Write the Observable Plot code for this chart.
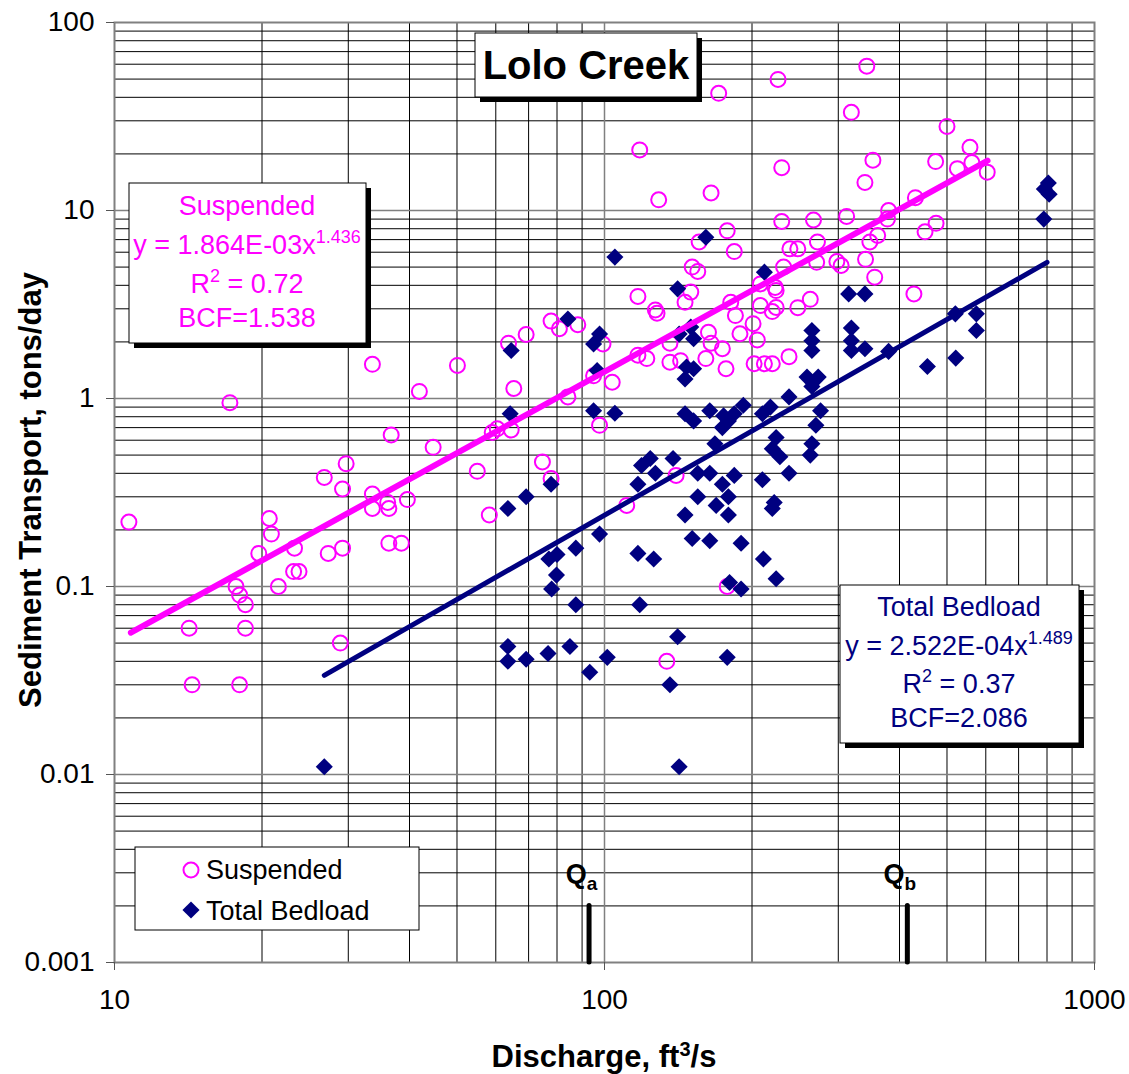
<!DOCTYPE html>
<html><head><meta charset="utf-8">
<script src="https://cdn.jsdelivr.net/npm/d3@7"></script>
<script src="https://cdn.jsdelivr.net/npm/@observablehq/plot@0.6"></script>
<style>body{margin:0;background:#fff;} svg{display:block}</style>
</head><body><div id="chart"></div>
<script>
// ---- data (discharge ft3/s, transport tons/day) ----
const suspended = [
[10.7,0.22],[17.2,0.95],[14.2,0.06],[14.4,0.03],[17.7,0.1],[18.0,0.09],[18.5,0.08],[18.5,0.06],[18.0,0.03],
[19.7,0.15],[20.7,0.23],[20.9,0.19],[21.6,0.1],[23.3,0.16],[23.2,0.12],[23.8,0.12],[26.8,0.38],[27.3,0.15],
[28.9,0.05],[29.2,0.33],[29.2,0.16],[29.7,0.45],[33.6,1.52],[33.6,0.31],[33.6,0.26],[36.1,0.28],[36.3,0.26],
[39.6,0.29],[36.7,0.64],[41.9,1.09],[44.7,0.55],[50.1,1.5],[55.0,0.41],[58.2,0.24],[36.3,0.17],[38.5,0.17],
[59.0,0.66],[60.4,0.69],[64.5,0.68],[63.7,1.97],[69.2,2.19],[65.3,1.13],[77.8,2.58],[80.9,2.35],[88.2,2.47],
[84.2,1.02],[74.7,0.46],[77.8,0.375],[99.3,1.95],[95,1.32],[103.7,1.22],[97.7,0.72],[111,0.27],[117,3.49],
[118,21],[129,11.4],[127,2.96],[128,2.84],[122,1.63],[117,1.7],[136,1.56],[143,1.59],[136,1.97],[140,0.39],
[134,0.04],[178,0.1],[150,3.68],[146,3.25],[151,5.0],[155,4.74],[156,6.8],[165,12.4],[163,2.25],[165,1.97],
[174,1.84],[161,1.63],[177,1.44],[178,7.8],[184,6.05],[181,3.25],[185,2.76],[189,2.21],[201,2.5],[205,2.05],
[171,42],[202,1.53],[212,1.53],[220,1.53],[238,1.67],[208,4.07],[223,3.9],[224,3.75],[208,3.12],[224,3.05],
[220,2.9],[248,3.04],[263,3.37],[232,5.0],[230,16.9],[230,8.74],[226,49.8],[239,6.25],[248,6.25],[267,8.9],
[272,6.8],[271,5.3],[298,5.35],[304,5.1],[312,9.3],[319,33.3],[343,58.6],[340,14.1],[353,18.5],[341,5.5],
[348,6.8],[361,7.36],[356,4.42],[380,10],[378,9.0],[428,3.6],[431,11.7],[451,7.7],[474,18.2],[475,8.55],
[500,28.0],[525,16.7],[557,21.7],[562,18.0],[604,16.0]
];
const bedload = [
[26.8,0.011],
[63.5,0.26],[64.5,1.8],[64.2,0.83],[63.5,0.048],[63.5,0.04],
[69.2,0.3],[69.2,0.041],
[77.8,0.35],[77,0.14],[80,0.148],[79.8,0.115],[78,0.097],[76.7,0.044],
[84.2,2.65],[87.4,0.16],[87.4,0.08],[85,0.048],
[93.3,0.035],[95,1.95],[97.7,2.2],[95,0.86],[96.6,1.41],[97.7,0.19],
[101.3,0.042],[105,5.65],[105,0.835],
[117,0.35],[119,0.44],[124,0.48],[127,0.4],[117,0.15],[126,0.14],[118,0.08],
[136,0.03],[141,0.054],[142,0.011],
[138,0.48],[141,3.83],[142,2.2],[150,2.4],[152,2.08],[147,1.47],[152,1.44],[146,1.27],[146,0.83],[152,0.76],
[155,0.4],[155,0.3],[146,0.24],[151,0.18],
[161,7.2],[164,0.86],[164,0.4],[164,0.175],[168,0.575],[169,0.27],
[174,0.7],[175,0.81],[174,0.35],[179,0.76],[179,0.3],[179,0.24],[178,0.042],[180,0.105],[184,0.83],[184,0.39],
[190,0.17],[190,0.097],[192,0.92],
[210,0.83],[210,0.37],[211,0.14],[212,4.7],[218,0.9],[220,0.54],[222,0.28],[220,0.26],[224,0.62],[224,0.11],
[228,0.49],[238,1.02],[238,0.4],
[259,1.3],[263,0.5],[265,0.575],[270,0.72],[276,0.86],[273,1.3],[265,1.16],[265,2.3],[265,2.03],[265,1.8],
[315,3.6],[340,3.6],[319,2.37],[319,2.03],[319,1.8],[340,1.84],[380,1.78],
[456,1.48],[521,1.64],[520,2.82],[574,2.82],[574,2.3],
[788,9.0],[790,13.0],[805,14.0],[808,12.2]
];
// power-law fit lines (end points)
const suspendedFit = [[10.8,0.0568],[605,18.4]];
const bedloadFit = [[26.8,0.0337],[800,5.3]];
// threshold discharges
const thresholds = [{sub:"a", q:93},{sub:"b", q:415}];
// ticks
const xTicks = [10,100,1000];
const yTicks = [0.001,0.01,0.1,1,10,100];
const minorX = [20,30,40,50,60,70,80,90,200,300,400,500,600,700,800,900];
const minorY = [0.002,0.003,0.004,0.005,0.006,0.007,0.008,0.009,
  0.02,0.03,0.04,0.05,0.06,0.07,0.08,0.09,0.2,0.3,0.4,0.5,0.6,0.7,0.8,0.9,
  2,3,4,5,6,7,8,9,20,30,40,50,60,70,80,90];

const MAG = "#FF00FF", NAVY = "#000080";
const FONT = "Arial, 'Liberation Sans', sans-serif";

const plot = Plot.plot({
  width: 1129, height: 1074,
  marginLeft: 114, marginRight: 35, marginTop: 22, marginBottom: 112,
  style: {fontFamily: FONT, fontSize: "28px", color: "#000", background: "#fff"},
  x: {type: "log", domain: [10, 1000], axis: null},
  y: {type: "log", domain: [0.001, 100], axis: null},
  marks: [
    Plot.ruleX(minorX, {stroke: "#000", strokeWidth: 1}),
    Plot.ruleY(minorY, {stroke: "#000", strokeWidth: 1}),
    Plot.ruleX([100], {stroke: "#808080", strokeWidth: 1.5}),
    Plot.ruleY([0.01, 0.1, 1, 10], {stroke: "#808080", strokeWidth: 1.5}),
    Plot.frame({stroke: "#808080", strokeWidth: 2}),
    Plot.axisY(yTicks, {anchor: "left", tickSize: 8, tickPadding: 12, tickFormat: d => String(d), fontSize: 28, label: null, stroke: "#555"}),
    Plot.axisX(xTicks, {anchor: "bottom", tickSize: 8, tickPadding: 19, tickFormat: d => String(d), fontSize: 28, label: null, stroke: "#555"}),
    Plot.dot(suspended, {x: d => d[0], y: d => d[1], r: 7.5, stroke: MAG, strokeWidth: 2, fill: "none"}),
    Plot.dot(bedload, {x: d => d[0], y: d => d[1], symbol: d3.symbolDiamond2, r: 7.7, fill: NAVY, stroke: "none"}),
    Plot.line(suspendedFit, {x: d => d[0], y: d => d[1], stroke: MAG, strokeWidth: 6, strokeLinecap: "round"}),
    Plot.line(bedloadFit, {x: d => d[0], y: d => d[1], stroke: NAVY, strokeWidth: 5, strokeLinecap: "round"}),
    Plot.ruleX(thresholds, {x: "q", y1: d => 0.001, y2: d => 0.002, stroke: "#000", strokeWidth: 5, strokeLinecap: "round"})
  ]
});
document.getElementById("chart").appendChild(plot);

// ---- annotations ----
const svg = d3.select(plot);
const sx = plot.scale("x"), sy = plot.scale("y");
const g = svg.append("g").attr("font-family", FONT);

function box(x, y, w, h, shadow) {
  if (shadow) g.append("rect").attr("x", x + 5).attr("y", y + 5).attr("width", w).attr("height", h).attr("fill", "#000");
  g.append("rect").attr("x", x).attr("y", y).attr("width", w).attr("height", h)
    .attr("fill", "#fff").attr("stroke", "#000").attr("stroke-width", 1);
}
// parts: [[text, isSup]]
function line(x, y, parts, opts = {}) {
  const t = g.append("text").attr("x", x).attr("y", y)
    .attr("text-anchor", opts.anchor || "middle")
    .attr("font-size", opts.size || 27)
    .attr("font-weight", opts.weight || "normal")
    .attr("fill", opts.color || "#000");
  let raised = false;
  for (const [txt, sup] of parts) {
    const s = t.append("tspan").text(txt);
    if (sup && !raised) { s.attr("dy", sup === "sub" ? 7 : -11).attr("font-size", opts.supSize || 18); raised = sup; }
    else if (!sup && raised) { s.attr("dy", raised === "sub" ? -7 : 11); raised = false; }
    else if (sup) s.attr("font-size", opts.supSize || 18);
  }
  return t;
}

// Title box
box(475, 33, 222, 64, true);
line(586, 79, [["Lolo Creek"]], {size: 40, weight: "bold"});

// Suspended equation box
box(129, 183, 237, 160, true);
line(247, 215, [["Suspended"]], {color: MAG});
line(247, 254, [["y = 1.864E-03x"], ["1.436", true]], {color: MAG});
line(247, 293, [["R"], ["2", true], [" = 0.72"]], {color: MAG});
line(247, 327, [["BCF=1.538"]], {color: MAG});

// Total Bedload equation box
box(840, 585, 239, 158, true);
line(959, 616, [["Total Bedload"]], {color: NAVY});
line(959, 655, [["y = 2.522E-04x"], ["1.489", true]], {color: NAVY});
line(959, 693, [["R"], ["2", true], [" = 0.37"]], {color: NAVY});
line(959, 727, [["BCF=2.086"]], {color: NAVY});

// Legend
box(135, 847, 284, 83, false);
g.append("circle").attr("cx", 191).attr("cy", 870).attr("r", 7.5).attr("fill", "none").attr("stroke", MAG).attr("stroke-width", 2);
g.append("path").attr("d", d3.symbol(d3.symbolDiamond2, Math.PI * 7.7 * 7.7)()).attr("transform", "translate(191,910)").attr("fill", NAVY);
line(206, 879, [["Suspended"]], {anchor: "start"});
line(206, 920, [["Total Bedload"]], {anchor: "start"});

// Q labels above threshold rules
for (const t of thresholds) {
  const px = sx.apply(t.q), py = sy.apply(0.002);
  line(px - 7, py - 22, [["Q"], [t.sub, "sub"]], {weight: "bold", size: 27, supSize: 19});
}

// Axis titles
line(604, 1067, [["Discharge, ft"], ["3", true], ["/s"]], {weight: "bold", size: 31, supSize: 20});
g.append("text").attr("transform", "translate(41,490) rotate(-90)")
  .attr("text-anchor", "middle").attr("font-size", 31).attr("font-weight", "bold")
  .text("Sediment Transport, tons/day");
</script></body></html>
